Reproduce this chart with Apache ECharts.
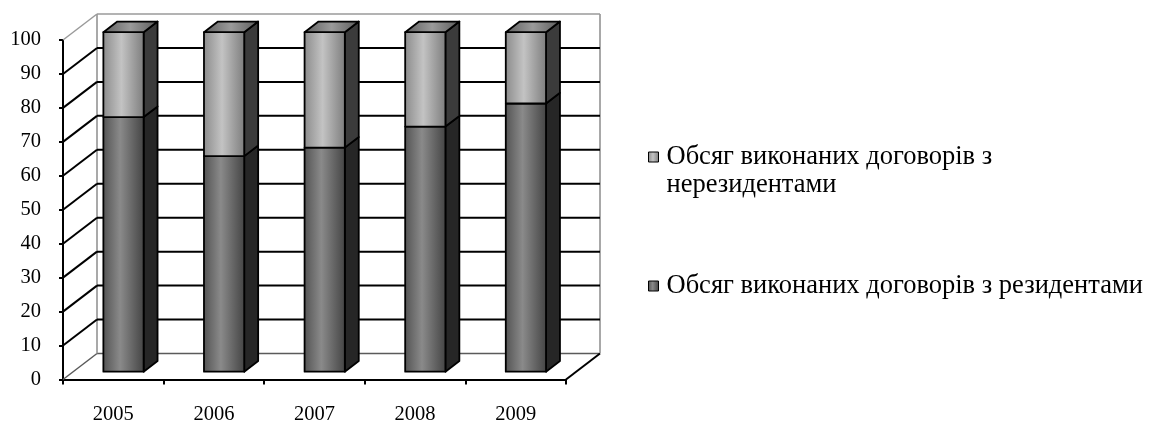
<!DOCTYPE html>
<html>
<head>
<meta charset="utf-8">
<script src="https://cdn.jsdelivr.net/npm/echarts@6/dist/echarts.min.js"></script>
<style>
  html, body { margin: 0; padding: 0; background: #ffffff; }
  #chart { width: 1152px; height: 425px; }
</style>
</head>
<body>
<div id="chart"></div>
<script>
// Share of completed contracts, % of total
const years = ['2005', '2006', '2007', '2008', '2009'];
const residents = [75, 63.5, 66, 72.2, 79];
const nonResidents = [25, 36.5, 34, 27.8, 21];
const valueTicks = [0, 10, 20, 30, 40, 50, 60, 70, 80, 90, 100];
const residentsName = 'Обсяг виконаних договорів з резидентами';
const nonResidentsName = 'Обсяг виконаних договорів з нерезидентами';

// pseudo-3D projection of the chart box
const WALL_DX = 34, WALL_DY = -26;     // depth of the floor/walls
const BAR_FRONT = 0.3;                 // where bar front faces sit in depth
const BAR_DEPTH = 0.41;                // bar thickness as a share of depth
const BAR_WIDTH = 0.4;                 // bar width as a share of the band

const FONT = 'Liberation Serif, Times New Roman, serif';

const frontResident = {
  type: 'linear', x: 0, y: 0, x2: 1, y2: 0,
  colorStops: [
    { offset: 0, color: '#525252' },
    { offset: 0.42, color: '#8a8a8a' },
    { offset: 1, color: '#434343' }
  ]
};
const frontNonResident = {
  type: 'linear', x: 0, y: 0, x2: 1, y2: 0,
  colorStops: [
    { offset: 0, color: '#8a8a8a' },
    { offset: 0.45, color: '#c3c3c3' },
    { offset: 1, color: '#7c7c7c' }
  ]
};
const topFace = {
  type: 'linear', x: 0, y: 0, x2: 1, y2: 0,
  colorStops: [
    { offset: 0, color: '#5e5e5e' },
    { offset: 0.5, color: '#9a9a9a' },
    { offset: 1, color: '#5a5a5a' }
  ]
};

function line(x1, y1, x2, y2, color, width) {
  return {
    type: 'line',
    shape: { x1: x1, y1: y1, x2: x2, y2: y2 },
    style: { stroke: color, lineWidth: width },
    silent: true
  };
}

// floor, side wall and back wall with their grid lines
function renderWalls(params, api) {
  const cs = params.coordSys;
  const v = api.value(1);
  const y = api.coord([0, v])[1];
  const x0 = cs.x, x1 = cs.x + cs.width;
  const isEdge = v === valueTicks[0] || v === valueTicks[valueTicks.length - 1];
  const children = [];
  const edgeColor = v === valueTicks[0] ? '#5a5a5a' : (isEdge ? '#9a9a9a' : '#000');
  const edgeWidth = isEdge ? 1.5 : 2;
  children.push(line(x0, y, x0 + WALL_DX, y + WALL_DY, edgeColor, edgeWidth));
  children.push(line(x0 + WALL_DX, y + WALL_DY, x1 + WALL_DX, y + WALL_DY, edgeColor, edgeWidth));
  if (params.dataIndex === 0) {
    const yTop = api.coord([0, valueTicks[valueTicks.length - 1]])[1];
    children.push(line(x0 + WALL_DX, y + WALL_DY, x0 + WALL_DX, yTop + WALL_DY, '#8c8c8c', 1.5));
    children.push(line(x1 + WALL_DX, y + WALL_DY, x1 + WALL_DX, yTop + WALL_DY, '#a8a8a8', 2));
    children.push(line(x1, y, x1 + WALL_DX, y + WALL_DY, '#000', 2));
  }
  return { type: 'group', children: children };
}

function makeBarRenderer(frontFill, sideFill, withTop) {
  return function (params, api) {
    const i = api.value(0);
    const lo = api.coord([i, api.value(1)]);
    const hi = api.coord([i, api.value(2)]);
    const band = api.size([1, 0])[0];
    const w = band * BAR_WIDTH;
    const fx = BAR_FRONT * WALL_DX, fy = BAR_FRONT * WALL_DY;
    const dx = BAR_DEPTH * WALL_DX, dy = BAR_DEPTH * WALL_DY;
    const xl = lo[0] + fx - w / 2, xr = lo[0] + fx + w / 2;
    const yb = lo[1] + fy, yt = hi[1] + fy;
    const stroke = { stroke: '#000', lineWidth: 1.8, lineJoin: 'round' };
    const children = [
      {
        type: 'polygon',
        shape: { points: [[xr, yt], [xr + dx, yt + dy], [xr + dx, yb + dy], [xr, yb]] },
        style: Object.assign({ fill: sideFill }, stroke)
      },
      {
        type: 'rect',
        shape: { x: xl, y: yt, width: w, height: yb - yt },
        style: Object.assign({ fill: frontFill }, stroke)
      }
    ];
    if (withTop) {
      children.push({
        type: 'polygon',
        shape: { points: [[xl, yt], [xr, yt], [xr + dx, yt + dy], [xl + dx, yt + dy]] },
        style: Object.assign({ fill: topFace }, stroke)
      });
    }
    return { type: 'group', children: children };
  };
}

const chart = echarts.init(document.getElementById('chart'), null, { renderer: 'canvas' });

const LEGEND_LINE = 28;
const legendCommon = {
  orient: 'vertical',
  left: 648,
  padding: 0,
  itemWidth: 10,
  itemHeight: 10,
  selectedMode: false,
  icon: 'rect',
  itemStyle: { borderColor: '#000', borderWidth: 1 },
  textStyle: {
    fontFamily: FONT, fontSize: 26.5, color: '#000',
    lineHeight: LEGEND_LINE, padding: [0, 0, 0, 3]
  }
};

chart.setOption({
  animation: false,
  backgroundColor: '#ffffff',
  grid: { left: 63, top: 40, width: 503, height: 342, containLabel: false },
  legend: [
    Object.assign({}, legendCommon, {
      top: 157 - 1.5 * LEGEND_LINE,
      data: [nonResidentsName],
      // blank leading line keeps the marker beside the first text line
      formatter: function (name) {
        return '\n' + name.replace(' нерезидентами', '\nнерезидентами');
      }
    }),
    Object.assign({}, legendCommon, {
      top: 286 - 0.5 * LEGEND_LINE,
      data: [residentsName]
    })
  ],
  xAxis: {
    type: 'category',
    data: years,
    boundaryGap: true,
    axisLine: { show: true, lineStyle: { color: '#000', width: 2 } },
    axisTick: { show: true, length: 5, lineStyle: { color: '#000', width: 2 } },
    axisLabel: { margin: 24.5, color: '#000', fontFamily: FONT, fontSize: 20.5 },
    splitLine: { show: false }
  },
  yAxis: {
    type: 'value',
    min: 0,
    max: 100,
    interval: 10,
    axisLine: { show: true, lineStyle: { color: '#000', width: 2 } },
    axisTick: { show: true, length: 4, lineStyle: { color: '#000', width: 2 } },
    axisLabel: { margin: 22, color: '#000', fontFamily: FONT, fontSize: 20.5 },
    splitLine: { show: false }
  },
  series: [
    {
      name: 'walls',
      type: 'custom',
      renderItem: renderWalls,
      data: valueTicks.map(function (v) { return [0, v]; }),
      encode: { x: 0, y: 1 },
      silent: true,
      z: 1
    },
    {
      name: residentsName,
      type: 'custom',
      renderItem: makeBarRenderer(frontResident, '#262626', false),
      itemStyle: { color: frontResident },
      data: years.map(function (y, i) { return [i, 0, residents[i]]; }),
      encode: { x: 0, y: [1, 2] },
      z: 2
    },
    {
      name: nonResidentsName,
      type: 'custom',
      renderItem: makeBarRenderer(frontNonResident, '#3b3b3b', true),
      itemStyle: { color: frontNonResident },
      data: years.map(function (y, i) { return [i, residents[i], residents[i] + nonResidents[i]]; }),
      encode: { x: 0, y: [1, 2] },
      z: 3
    }
  ]
});
</script>
</body>
</html>
